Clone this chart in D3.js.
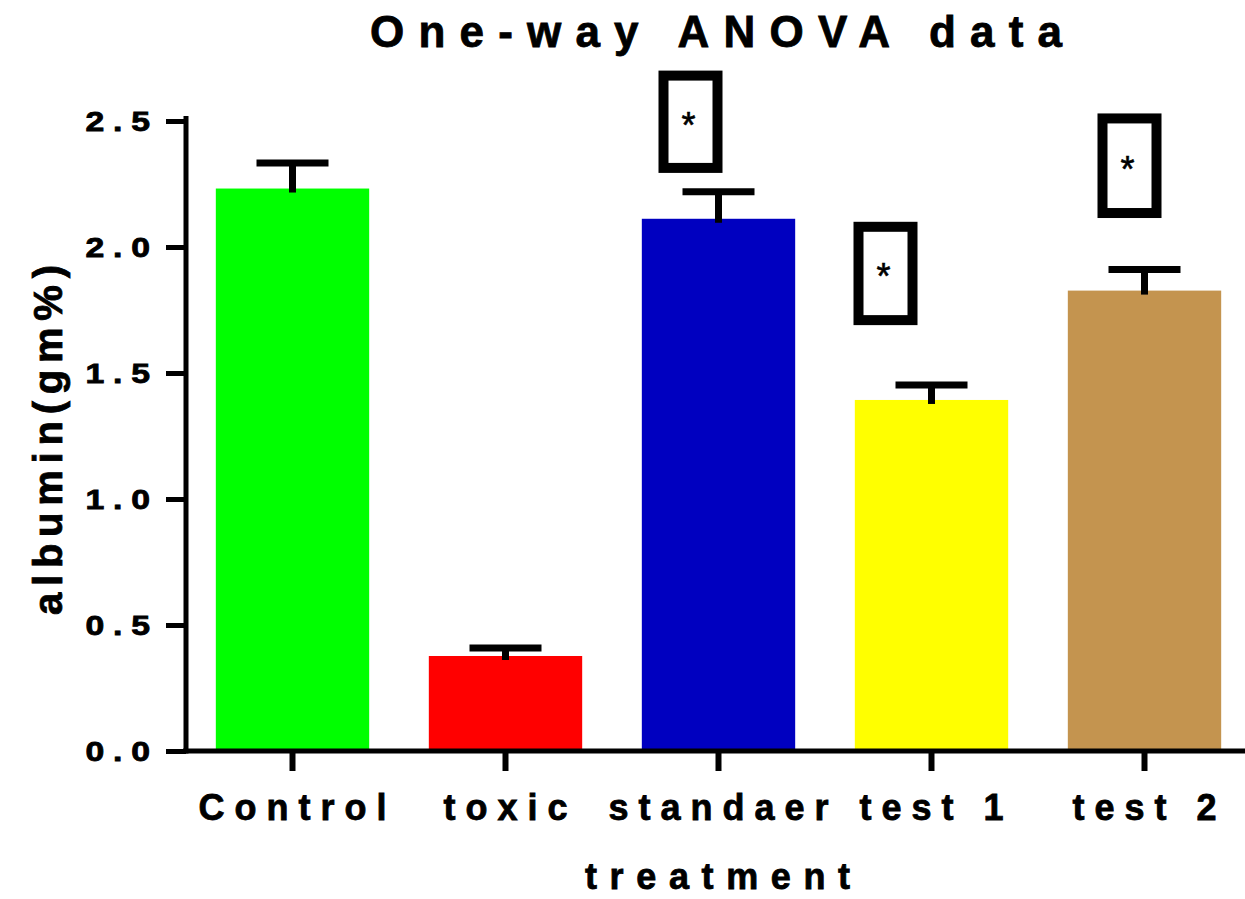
<!DOCTYPE html>
<html>
<head>
<meta charset="utf-8">
<script src="https://cdn.jsdelivr.net/npm/d3@7"></script>
<style>
  html, body { margin: 0; padding: 0; background: #fff; }
  svg { display: block; }
  text { font-family: "Liberation Sans", Arial, sans-serif; }
</style>
</head>
<body>
<svg id="chart" width="1245" height="899"></svg>
<script>
// ---- data ----
const categories = ["Control", "toxic", "standaer", "test 1", "test 2"];
const means = [2.232, 0.377, 2.112, 1.393, 1.827];
const sems = [0.101, 0.032, 0.107, 0.059, 0.084];
const colors = ["#00ff00", "#ff0000", "#0000c0", "#ffff00", "#c4944f"];
const yTicks = [0.0, 0.5, 1.0, 1.5, 2.0, 2.5];
const sigCategories = ["standaer", "test 1", "test 2"];
const sigTop = [2.70, 2.10, 2.53];
const sigBottom = [2.294, 1.69, 2.115];
const sigLabels = ["*", "*", "*"];
const titleText = "One-way ANOVA data";
const xTitle = "treatment";
const yTitle = "albumin(gm%)";

// ---- layout ----
const sigDx = [-28, -46, -15];
const svg = d3.select("#chart");
const x0 = 186, yBase = 751;
const y = d3.scaleLinear().domain([0, 2.5]).range([yBase, 121]);
const x = d3.scaleBand().domain(categories).range([x0, x0 + 5 * 213])
  .paddingInner(0.28).paddingOuter(0.14);

// bars
svg.append("g").selectAll("rect").data(categories).join("rect")
  .attr("x", d => x(d))
  .attr("width", x.bandwidth())
  .attr("y", (d, i) => y(means[i]))
  .attr("height", (d, i) => y(0) - y(means[i]))
  .attr("fill", (d, i) => colors[i]);

// error bars
const eb = svg.append("g").attr("stroke", "#000").attr("stroke-width", 7);
categories.forEach((c, i) => {
  const cx = x(c) + x.bandwidth() / 2;
  eb.append("line").attr("x1", cx).attr("x2", cx)
    .attr("y1", y(means[i]) + 4).attr("y2", y(means[i] + sems[i]));
  eb.append("line").attr("x1", cx - 36).attr("x2", cx + 36)
    .attr("y1", y(means[i] + sems[i])).attr("y2", y(means[i] + sems[i]));
});

// y axis
const yAxis = d3.axisLeft(y).tickValues(yTicks).tickFormat(d3.format(".1f"))
  .tickSize(20).tickPadding(16);
const gy = svg.append("g").attr("transform", `translate(${x0},0)`).call(yAxis);
gy.select(".domain").attr("d", `M0,${y(2.5) - 5}V${yBase + 2.5}`)
  .attr("stroke", "#000").attr("stroke-width", 5).attr("fill", "none");
gy.selectAll(".tick line").attr("stroke", "#000").attr("stroke-width", 5);
const sx = 1.25, tls = 7;
gy.selectAll(".tick text")
  .attr("font-size", 27).attr("font-weight", "bold").attr("fill", "#000")
  .attr("stroke", "#000").attr("stroke-width", 0.8)
  .attr("font-family", "Liberation Sans, Arial, sans-serif")
  .style("letter-spacing", tls + "px")
  .attr("transform", `scale(${sx},1)`)
  .attr("x", -36 / sx).attr("dx", tls).attr("dy", "0.36em");

// x axis
const xAxis = d3.axisBottom(x).tickSize(20).tickPadding(23);
const gx = svg.append("g").attr("transform", `translate(0,${yBase})`).call(xAxis);
gx.select(".domain").attr("d", `M${x0 - 3},0H1245`)
  .attr("stroke", "#000").attr("stroke-width", 5).attr("fill", "none");
gx.selectAll(".tick line").attr("stroke", "#000").attr("stroke-width", 6);
gx.selectAll(".tick text")
  .attr("font-size", 36).attr("font-weight", "bold").attr("fill", "#000")
  .attr("stroke", "#000").attr("stroke-width", 0.8)
  .attr("font-family", "Liberation Sans, Arial, sans-serif")
  .style("letter-spacing", "10px").attr("dx", 5).attr("dy", "0.72em");

// significance boxes
sigCategories.forEach((c, i) => {
  const cx = x(c) + x.bandwidth() / 2 + sigDx[i];
  const top = y(sigTop[i]), bot = y(sigBottom[i]);
  svg.append("rect")
    .attr("x", cx - 32 + 5).attr("y", top + 5)
    .attr("width", 64 - 10).attr("height", bot - top - 10)
    .attr("fill", "none").attr("stroke", "#000").attr("stroke-width", 10);
  svg.append("text").attr("x", cx - 2).attr("y", (top + bot) / 2 + 16)
    .attr("text-anchor", "middle").attr("font-size", 36)
    .attr("stroke", "#000").attr("stroke-width", 0.6).text(sigLabels[i]);
});

// titles
svg.append("text").attr("x", 370).attr("y", 47)
  .attr("font-size", 44).attr("font-weight", "bold")
  .attr("stroke", "#000").attr("stroke-width", 0.8)
  .attr("textLength", 692).attr("lengthAdjust", "spacing").text(titleText);
svg.append("text").attr("x", 585).attr("y", 889)
  .attr("font-size", 36).attr("font-weight", "bold")
  .attr("stroke", "#000").attr("stroke-width", 0.8)
  .attr("textLength", 265).attr("lengthAdjust", "spacing").text(xTitle);
svg.append("text").attr("transform", "translate(62,615) rotate(-90)")
  .attr("font-size", 40).attr("font-weight", "bold")
  .attr("stroke", "#000").attr("stroke-width", 0.8)
  .attr("textLength", 350).attr("lengthAdjust", "spacing").text(yTitle);
</script>
</body>
</html>
